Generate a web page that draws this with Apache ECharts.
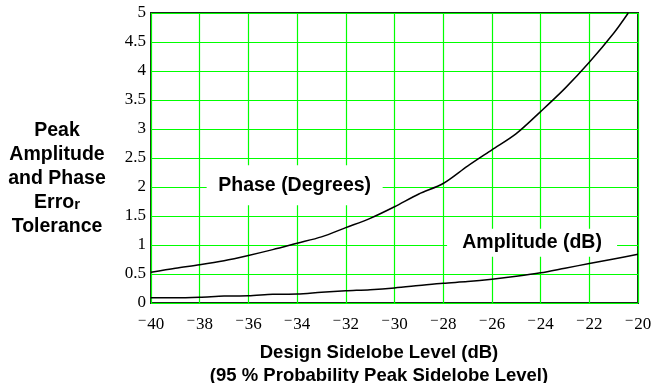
<!DOCTYPE html>
<html>
<head>
<meta charset="utf-8">
<script src="https://cdn.jsdelivr.net/npm/echarts@6/dist/echarts.min.js"></script>
<style>
html,body{margin:0;padding:0;background:#fff;}
#c{width:657px;height:383px;}
</style>
</head>
<body>
<div id="c"></div>
<script>
// Design sidelobe level (dB) samples
const phaseX = [-40,-39,-38,-37,-36,-35,-34,-33,-32,-31,-30,-29,-28,-27,-26,-25,-24,-23,-22,-21,-20.4];
const phaseDeg = [0.53,0.60,0.66,0.73,0.82,0.92,1.03,1.14,1.30,1.46,1.66,1.88,2.06,2.36,2.64,2.92,3.30,3.70,4.15,4.65,5.0];
const ampX = [-40,-39,-38,-37,-36,-35,-34,-33,-32,-31,-30,-29,-28,-27,-26,-25,-24,-23,-22,-21,-20];
const ampDB = [0.09,0.09,0.10,0.12,0.125,0.15,0.155,0.185,0.21,0.23,0.26,0.30,0.34,0.37,0.41,0.46,0.52,0.60,0.68,0.76,0.84];
const xTicks = {min:-40, max:-20, interval:2};
const yTicks = {min:0, max:5, interval:0.5};
const phaseLabel = {text:'Phase (Degrees)', at:[-34.1, 2.03]};
const ampLabel = {text:'Amplitude (dB)', at:[-24.35, 1.04]};

const chart = echarts.init(document.getElementById('c'), null, {renderer:'canvas'});
const boldFont = 'Liberation Sans, Arial, Helvetica, sans-serif';
const serif = 'Liberation Serif, Times New Roman, serif';

function pairs(xs, ys){ return xs.map((x,i)=>[x, ys[i]]); }

chart.setOption({
  animation:false,
  backgroundColor:'#fff',
  grid:{left:151, right:19, top:13, bottom:80, show:true, borderColor:'#1a2a1a', borderWidth:2, backgroundColor:'transparent'},
  xAxis:{
    type:'value', min:xTicks.min, max:xTicks.max, interval:xTicks.interval,
    axisLine:{show:false}, axisTick:{show:false},
    splitLine:{show:true, lineStyle:{color:'#00ff00', width:1.2}},
    axisLabel:{
      margin:11, color:'#000', fontFamily:serif, fontSize:17,
      formatter:v => v<0 ? '{m|−}{n|' + Math.abs(v) + '}' : '{n|' + v + '}',
      rich:{
        m:{fontFamily:serif, fontSize:15, color:'#000', padding:[0,1,6,0]},
        n:{fontFamily:serif, fontSize:17, color:'#000'}
      }
    }
  },
  yAxis:{
    type:'value', min:yTicks.min, max:yTicks.max, interval:yTicks.interval,
    axisLine:{show:false}, axisTick:{show:false},
    splitLine:{show:true, lineStyle:{color:'#00ff00', width:1.2}},
    axisLabel:{margin:5, color:'#000', fontFamily:serif, fontSize:17}
  },
  graphic:[
    {type:'text', x:57, y:179, z:10,
     style:{
       text:'{b|Peak}\n{b|Amplitude}\n{b|and Phase}\n{b|Erro}{s|r}\n{b|Tolerance}',
       align:'center', verticalAlign:'middle',
       rich:{
         b:{fontFamily:boldFont, fontWeight:'bold', fontSize:19.5, lineHeight:24, fill:'#000'},
         s:{fontFamily:boldFont, fontWeight:'bold', fontSize:15, lineHeight:24, fill:'#000', padding:[3,0,0,0]}
       }
     }},
    {type:'text', x:379, y:364, z:10,
     style:{
       text:'Design Sidelobe Level (dB)\n(95 % Probability Peak Sidelobe Level)',
       align:'center', verticalAlign:'middle',
       font:'bold 18.5px ' + boldFont, lineHeight:23, fill:'#000'
     }}
  ],
  series:[
    {
      type:'line', name:'Phase', data:pairs(phaseX, phaseDeg), smooth:0.3, showSymbol:false, symbol:'none',
      clip:true, lineStyle:{color:'#000', width:1.5}, z:3,
      markPoint:{
        symbol:'rect', symbolSize:[176,40], silent:true,
        itemStyle:{color:'#fff'},
        label:{show:true, position:'inside', color:'#000', fontFamily:boldFont, fontWeight:'bold', fontSize:19.5, formatter:phaseLabel.text},
        data:[{coord:phaseLabel.at}]
      }
    },
    {
      type:'line', name:'Amplitude', data:pairs(ampX, ampDB), smooth:0.3, showSymbol:false, symbol:'none',
      clip:true, lineStyle:{color:'#000', width:1.5}, z:3,
      markPoint:{
        symbol:'rect', symbolSize:[170,28], silent:true,
        itemStyle:{color:'#fff'},
        label:{show:true, position:'inside', color:'#000', fontFamily:boldFont, fontWeight:'bold', fontSize:19.5, formatter:ampLabel.text},
        data:[{coord:ampLabel.at}]
      }
    }
  ]
});
</script>
</body>
</html>
